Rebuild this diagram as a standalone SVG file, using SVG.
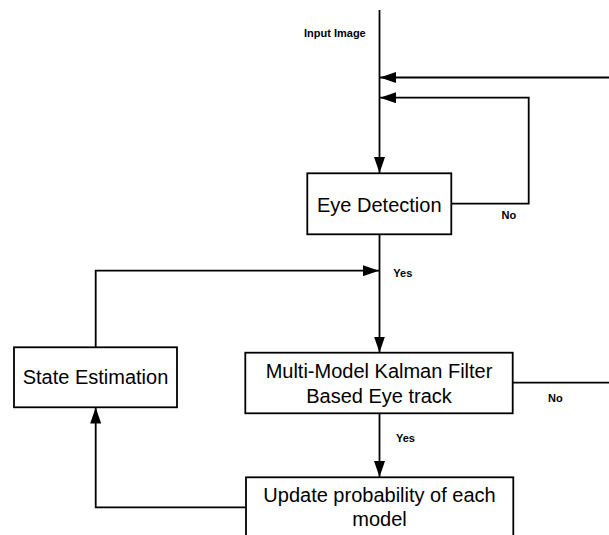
<svg xmlns="http://www.w3.org/2000/svg" width="609" height="535" viewBox="0 0 609 535">
<style>
.box{fill:#fff;stroke:#000;stroke-width:1.8}
.t{font-family:"Liberation Sans",Arial,sans-serif;font-size:20px;fill:#000;text-anchor:middle}
.l{font-family:"Liberation Sans",Arial,sans-serif;font-size:11px;font-weight:bold;fill:#000}
.c{fill:none;stroke:#000;stroke-width:1.8}
</style>
<defs>
<marker id="ah" markerUnits="userSpaceOnUse" markerWidth="17" markerHeight="11" refX="16" refY="5.5" orient="auto">
<path d="M0,0 L16,5.5 L0,11 Z" fill="#000"/>
</marker>
</defs>
<rect width="609" height="535" fill="#fff"/>
<g id="connectors">
<path class="c" d="M379.5,10 V173" marker-end="url(#ah)"/>
<path class="c" d="M609,77.5 H380" marker-end="url(#ah)"/>
<path class="c" d="M451.3,203.7 H528.7 V97.7 H380" marker-end="url(#ah)"/>
<path class="c" d="M379.5,234.3 V352.5" marker-end="url(#ah)"/>
<path class="c" d="M95.7,347.3 V270.7 H379" marker-end="url(#ah)"/>
<path class="c" d="M512.7,382.7 H609"/>
<path class="c" d="M379.5,413.3 V477" marker-end="url(#ah)"/>
<path class="c" d="M246,507.3 H95.7 V407.5" marker-end="url(#ah)"/>
</g>
<g id="labels">
<text class="l" x="304" y="36.5">Input Image</text>
<text class="l" x="501.5" y="219">No</text>
<text class="l" x="393.3" y="277.3">Yes</text>
<text class="l" x="548" y="402">No</text>
<text class="l" x="396" y="442.3">Yes</text>
</g>
<g id="eye-detection">
<rect class="box" x="307.3" y="173.3" width="144" height="61"/>
<text class="t" x="379.3" y="211.5">Eye Detection</text>
</g>
<g id="state-estimation">
<rect class="box" x="14" y="347.3" width="163" height="60"/>
<text class="t" x="95.5" y="384.3">State Estimation</text>
</g>
<g id="kalman">
<rect class="box" x="245.3" y="352.7" width="267.4" height="60.6"/>
<text class="t" x="379" y="377.5">Multi-Model Kalman Filter</text>
<text class="t" x="379" y="402.8">Based Eye track</text>
</g>
<g id="update">
<rect class="box" x="246" y="477.3" width="267.3" height="70"/>
<text class="t" x="379.5" y="502">Update probability of each</text>
<text class="t" x="379.5" y="526">model</text>
</g>
</svg>
